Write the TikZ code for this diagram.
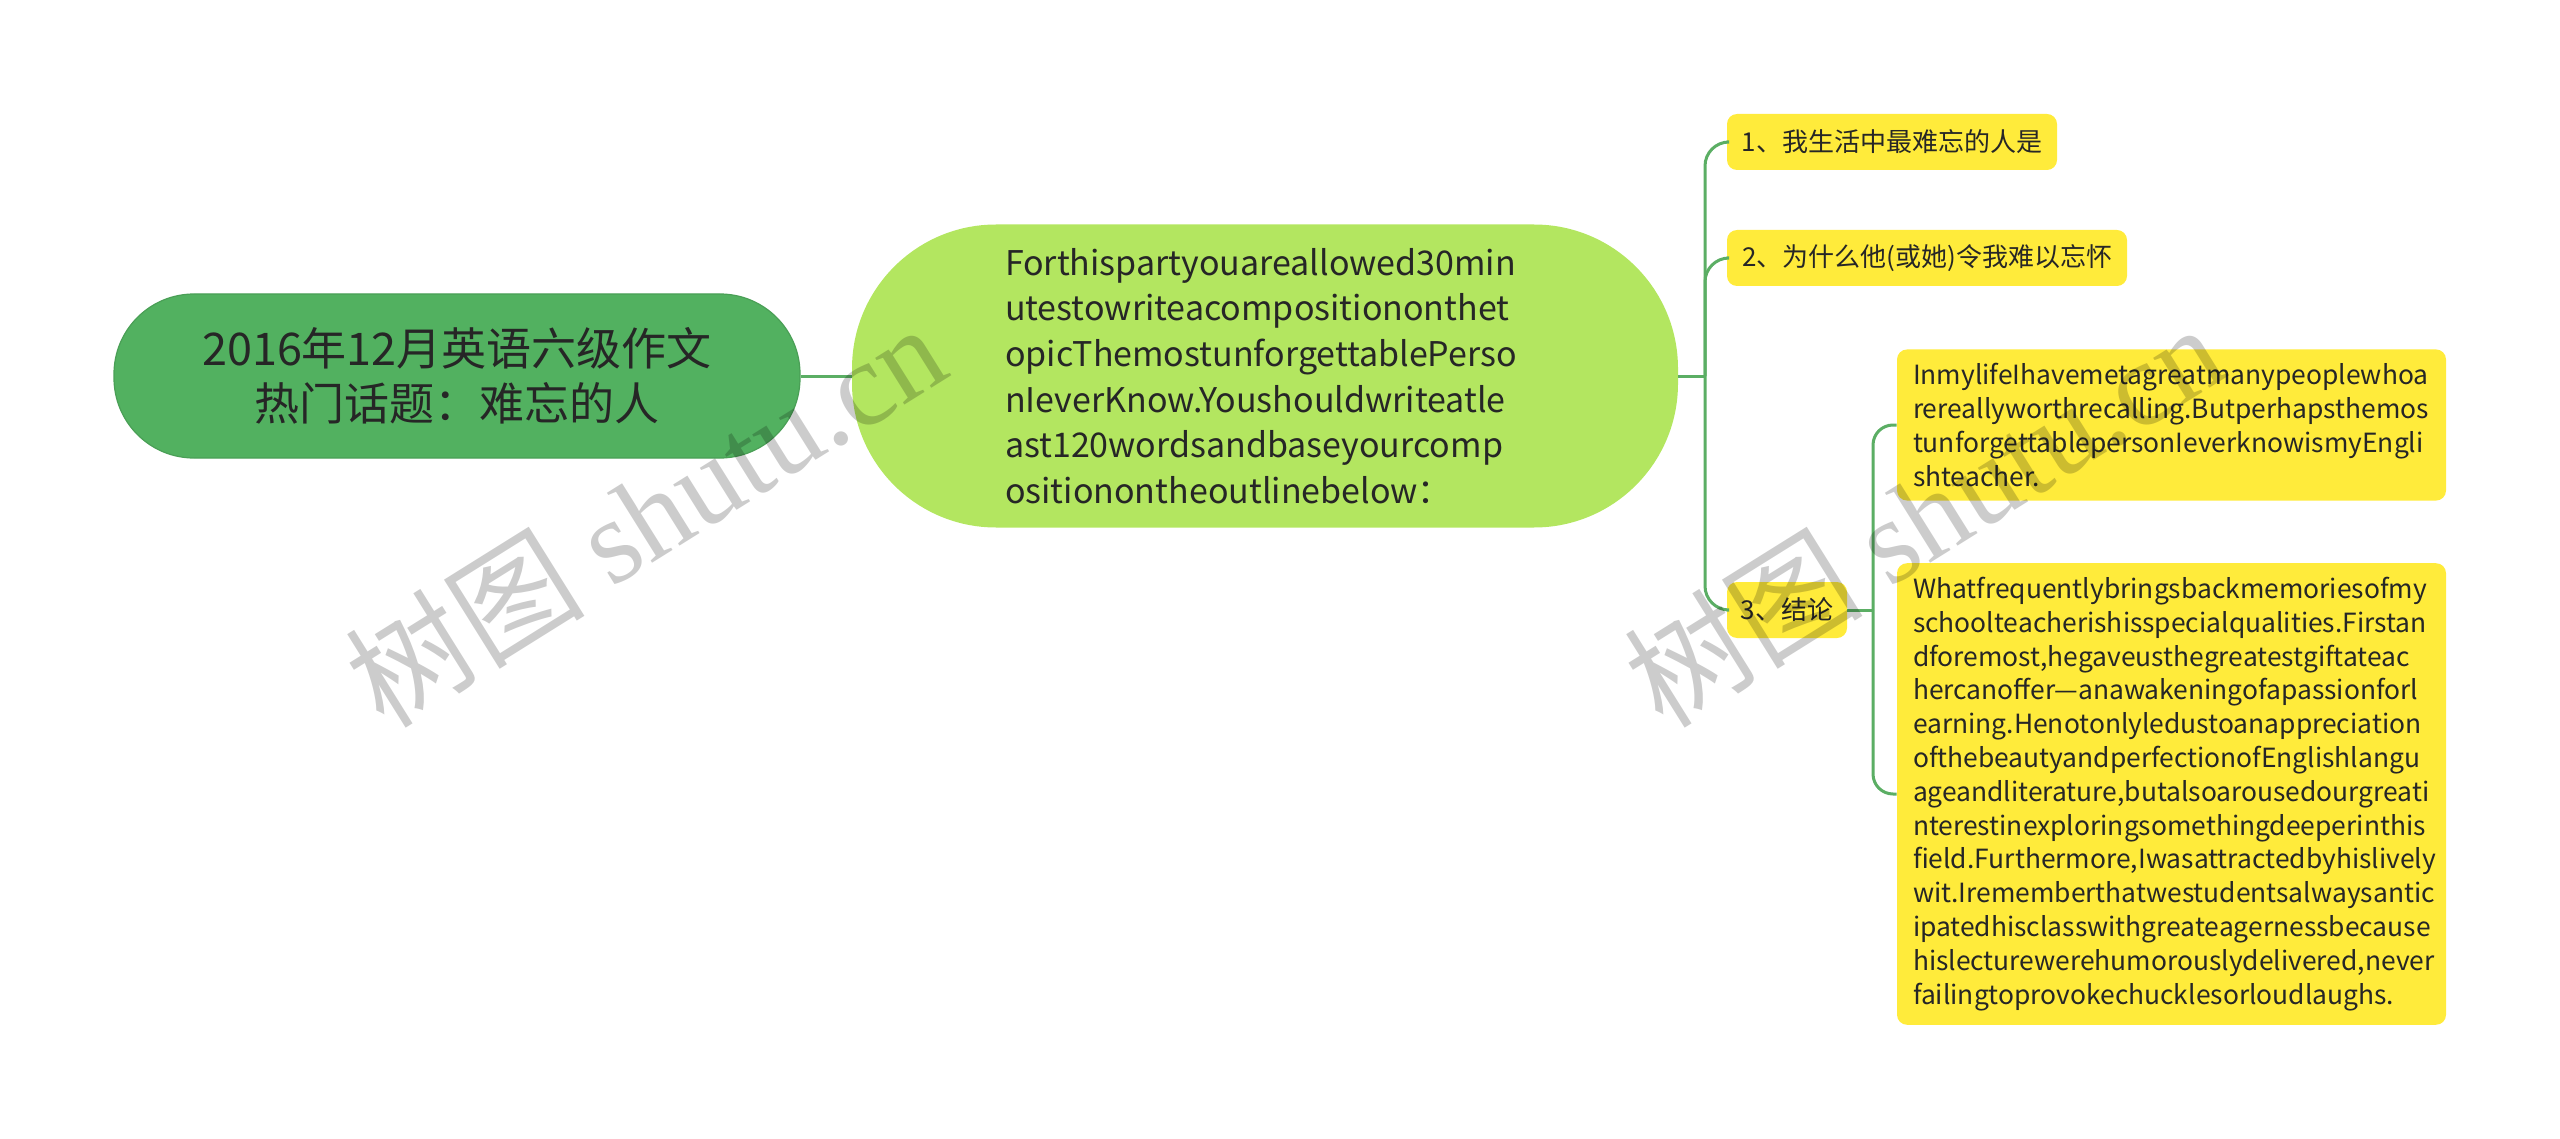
\documentclass[tikz,border=0pt]{standalone}
\usepackage{fontspec}
\setmainfont{Noto Sans CJK SC}
\newfontfamily\wmfont{Liberation Serif}
\usetikzlibrary{positioning,calc}
\definecolor{rootgreen}{HTML}{52B160}
\definecolor{rootedge}{HTML}{4A9F56}
\definecolor{limegreen}{HTML}{B3E660}
\definecolor{noteyellow}{HTML}{FFEB3B}
\definecolor{linkgreen}{HTML}{5BAE64}
\definecolor{inkdark}{HTML}{262626}
\tikzset{
  topicroot/.style={fill=rootgreen, draw=rootedge, line width=0.6pt, rounded corners=40pt,
    minimum width=343pt, minimum height=82pt, align=center, text=inkdark,
    font=\fontsize{22.5}{27.7}\selectfont},
  topicmain/.style={fill=limegreen, rounded corners=72pt, minimum width=413pt,
    minimum height=151.5pt, text width=260pt, align=left, text=inkdark,
    font=\fontsize{17}{22.8}\selectfont},
  topicsub/.style={fill=noteyellow, rounded corners=5pt, minimum height=28pt,
    inner xsep=5pt, text=inkdark, font=\fontsize{13}{16}\selectfont},
  topicnote/.style={fill=noteyellow, rounded corners=5pt, inner xsep=8pt, inner ysep=7pt,
    text width=258.5pt, align=left, text=inkdark,
    font=\fontsize{13.2}{16.9}\selectfont},
  link/.style={draw=linkgreen, line width=1.5pt},
  wmark/.style={text=black, text opacity=0.2, font=\fontsize{60}{60}\selectfont, rotate=32}
}
\begin{document}
\begin{tikzpicture}[x=0.5pt, y=-0.5pt]
  \useasboundingbox (0,0) rectangle (2560,1139);
  % Root topic
  \node[topicroot] (root) at (457,376) {2016年12月英语六级作文\\热门话题：难忘的人};
  % Task statement
  \node[topicmain] (task) at (1265,376) {Forthispartyouareallowed30min\\
    utestowriteacompositiononthet\\
    opicThemostunforgettablePerso\\
    nIeverKnow.Youshouldwriteatle\\
    ast120wordsandbaseyourcomp\\
    ositionontheoutlinebelow：};
  % Outline points
  \node[topicsub, minimum width=165pt] (pointA) at (1892,142) {1、我生活中最难忘的人是};
  \node[topicsub, minimum width=200pt] (pointB) at (1927,258) {2、为什么他(或她)令我难以忘怀};
  \node[topicsub, minimum width=60pt] (pointC) at (1787,610) {3、结论};
  % Sample paragraphs
  \node[topicnote] (noteA) at (2171.5,425) {InmylifeIhavemetagreatmanypeoplewhoa\\
    rereallyworthrecalling.Butperhapsthemos\\
    tunforgettablepersonIeverknowismyEngli\\
    shteacher.};
  \node[topicnote] (noteB) at (2171.5,794) {Whatfrequentlybringsbackmemoriesofmy\\
    schoolteacherishisspecialqualities.Firstan\\
    dforemost,hegaveusthegreatestgiftateac\\
    \mbox{hercanoffer—anawakeningofapassionforl}\\
    earning.Henotonlyledustoanappreciation\\
    ofthebeautyandperfectionofEnglishlangu\\
    ageandliterature,butalsoarousedourgreati\\
    nterestinexploringsomethingdeeperinthis\\
    field.Furthermore,Iwasattractedbyhislively\\
    wit.Irememberthatwestudentsalwaysantic\\
    ipatedhisclasswithgreateagernessbecause\\
    hislecturewerehumorouslydelivered,never\\
    failingtoprovokechucklesorloudlaughs.};
  % Connectors
  \coordinate (hubA) at (1705,376);
  \coordinate (hubB) at (1873,610);
  \draw[link] (root.east) -- (task.west);
  \draw[link] (task.east) -- (hubA);
  \draw[link, rounded corners=12pt] (hubA) |- (pointA.west);
  \draw[link, rounded corners=12pt] (hubA) |- (pointB.west);
  \draw[link, rounded corners=12pt] (hubA) |- (pointC.west);
  \draw[link] (pointC.east) -- (hubB);
  \draw[link, rounded corners=10pt] (hubB) |- (noteA.west);
  \draw[link, rounded corners=10pt] (hubB) |- (noteB.west);
  % Watermarks
  \node[wmark] (markA) at (645,514) {树图 {\wmfont shutu.cn}};
  \node[wmark] (markB) at (1923,514) {树图 {\wmfont shutu.cn}};
\end{tikzpicture}
\end{document}
